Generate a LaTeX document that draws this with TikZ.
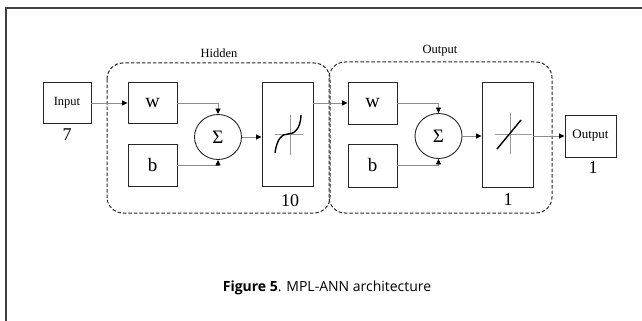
\documentclass[tikz,border=0pt]{standalone}
\usepackage{fontspec}
\setmainfont{Liberation Serif}
\newfontfamily\capfont{Open Sans}
\usetikzlibrary{arrows.meta,shapes.geometric,calc}
\tikzset{
  blk/.style={draw=black!85, line width=0.9pt, rectangle, inner sep=0pt},
  sumnode/.style={draw=black!85, line width=0.9pt, ellipse, inner sep=0pt,
    minimum width=47pt, minimum height=45pt, font=\fontsize{19}{21}\selectfont},
  conn/.style={draw=black!45, line width=0.8pt,
    -{Triangle[length=5.5pt,width=5pt,color=black]}},
  group/.style={draw=black!85, line width=1pt, dashed, dash pattern=on 3.5pt off 2pt, rounded corners=16pt},
  lbl/.style={font=\fontsize{12.5}{14}\selectfont},
  num/.style={font=\fontsize{18}{20}\selectfont},
  cross/.style={draw=black!40, line width=0.8pt},
  curve/.style={draw=black, line width=1.4pt}
}
\begin{document}
\begin{tikzpicture}[x=1pt,y=-1pt]
\useasboundingbox (0,0) rectangle (642,321);
% page frame: top and left rules
\draw[black!75, line width=2pt] (642,8) -- (6,8) -- (6,321);

% grouping outlines
\draw[group] (107,63) rectangle (330,213);
\draw[group] (329,62) rectangle (552,213);
\node[lbl] (hid) at (219,53) {Hidden};
\node[lbl] (outl) at (440,51) {Output};

% input
\node[blk, minimum width=48pt, minimum height=41pt, lbl] (inp) at (67,103) {Input};
\node[num] (n7) at (67,135) {7};

% hidden layer
\node[blk, minimum width=49pt, minimum height=41pt, font=\fontsize{20}{22}\selectfont] (w1) at (152.5,103) {w};
\node[blk, minimum width=49pt, minimum height=42pt, font=\fontsize{19}{22}\selectfont] (b1) at (152.5,165) {b};
\node[sumnode] (s1) at (218,137) {Σ};
\node[blk, minimum width=51pt, minimum height=104pt] (a1) at (287.5,134) {};
\node[num] (n10) at (290,201) {10};

% output layer
\node[blk, minimum width=49pt, minimum height=42pt, font=\fontsize{20}{22}\selectfont] (w2) at (372.5,103) {w};
\node[blk, minimum width=49pt, minimum height=43pt, font=\fontsize{19}{22}\selectfont] (b2) at (372.5,165.5) {b};
\node[sumnode] (s2) at (438.5,136) {Σ};
\node[blk, minimum width=51pt, minimum height=105pt] (a2) at (507.5,134.5) {};
\node[num] (n1a) at (508,200) {1};

% output
\node[blk, minimum width=51pt, minimum height=42pt, font=\fontsize{13}{15}\selectfont] (out) at (590.5,136) {Output};
\node[num] (n1b) at (593,168) {1};

% connectors
\draw[conn] (inp) -- (w1);
\draw[conn] (w1.east) -| (s1.north);
\draw[conn] (b1.east) -| (s1.south);
\draw[conn] (s1.east) -- (a1.west |- s1.east);
\draw[conn] (a1.east |- w2.west) -- (w2.west);
\draw[conn] (w2.east) -| (s2.north);
\draw[conn] (b2.east) -| (s2.south);
\draw[conn] (s2.east) -- (a2.west |- s2.east);
\draw[conn] (a2.east |- out.west) -- (out.west);

% sigmoid glyph
\draw[cross] ($(a1.center)+(2.5,-19)$) -- ($(a1.center)+(2.5,21)$);
\draw[cross] ($(a1.center)+(-12.5,0)$) -- ($(a1.center)+(15.5,0)$);
\draw[curve] ($(a1.center)+(-12.5,19)$) .. controls ($(a1.center)+(-10.5,4)$) and ($(a1.center)+(-5,0)$) .. ($(a1.center)+(0.5,0)$)
  .. controls ($(a1.center)+(6,0)$) and ($(a1.center)+(13,-4)$) .. ($(a1.center)+(13.5,-19)$);

% linear glyph
\draw[cross] ($(a2.center)+(2.5,-21.5)$) -- ($(a2.center)+(2.5,19.5)$);
\draw[cross] ($(a2.center)+(-12.5,-0.5)$) -- ($(a2.center)+(24.5,-0.5)$);
\draw[curve] ($(a2.center)+(-10.5,14.5)$) -- ($(a2.center)+(13.5,-14.5)$);

% caption
\node[font=\capfont\fontsize{14}{16}\selectfont] (cap) at (327,288) {\textbf{Figure 5}. MPL-ANN architecture};
\end{tikzpicture}
\end{document}
